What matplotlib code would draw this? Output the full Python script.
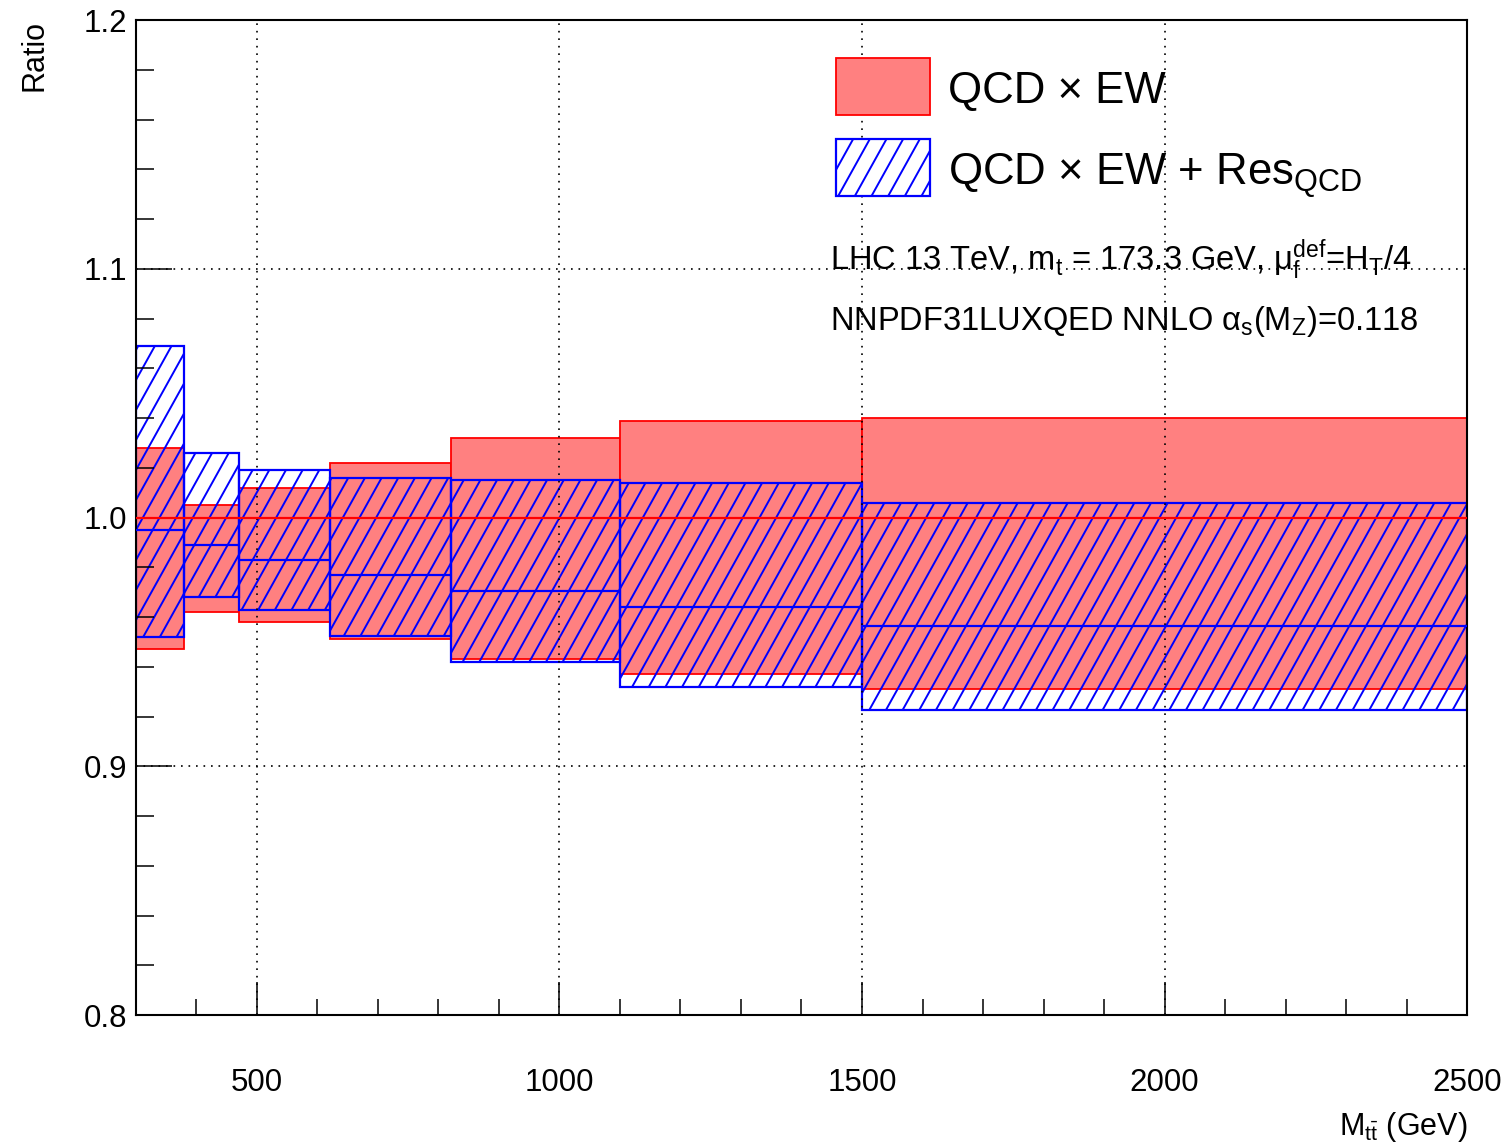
import matplotlib.pyplot as plt
import numpy as np
from matplotlib.patches import Rectangle
from matplotlib.collections import LineCollection
from matplotlib.transforms import IdentityTransform

plt.rcParams['font.family'] = ['Liberation Sans', 'DejaVu Sans']
plt.rcParams['mathtext.fontset'] = 'custom'
plt.rcParams['mathtext.rm'] = 'Liberation Sans'
plt.rcParams['mathtext.it'] = 'Liberation Sans:italic'
plt.rcParams['mathtext.bf'] = 'Liberation Sans:bold'

# bin edges in M_tt (GeV)
edges = [300, 380, 470, 620, 820, 1100, 1500, 2500]

# QCD x EW band (ratio)
qcdew_lo = [0.947, 0.962, 0.958, 0.951, 0.943, 0.937, 0.931]
qcdew_hi = [1.028, 1.005, 1.012, 1.022, 1.032, 1.039, 1.040]
qcdew_cen = [1.0, 1.0, 1.0, 1.0, 1.0, 1.0, 1.0]

# QCD x EW + Res_QCD band (ratio)
res_lo = [0.952, 0.968, 0.963, 0.9525, 0.942, 0.932, 0.9225]
res_hi = [1.069, 1.026, 1.019, 1.016, 1.015, 1.014, 1.006]
res_cen = [0.995, 0.989, 0.983, 0.977, 0.9705, 0.964, 0.9565]

xticks = [500, 1000, 1500, 2000, 2500]
yticks = [0.8, 0.9, 1.0, 1.1, 1.2]

RED_FILL = '#ff8080'

fig = plt.figure(figsize=(15.07, 11.46), dpi=100)
ax = fig.add_axes([0.0902, 0.1143, 0.8833, 0.8682])
ax.set_xlim(300, 2500)
ax.set_ylim(0.8, 1.2)

x0, y0, x1, y1 = ax.bbox.extents


def hatch(patch, z=1.5):
    # steep "/" hatching like ROOT's 3004 style, drawn in pixels and clipped to the patch
    step = 100 / 6
    rise = (y1 - y0) + 60
    run = rise / 1.8
    xs = np.arange(x0 - run - step, x1 + step, step)
    segs = [[(x, y0 - 30), (x + run, y0 - 30 + rise)] for x in xs]
    lc = LineCollection(segs, colors='#0000ff', linewidths=1.4,
                        transform=IdentityTransform(), zorder=z)
    ax.add_collection(lc, autolim=False)
    lc.set_clip_path(patch)


edges = np.array(edges)
widths = np.diff(edges)
lo1, hi1 = np.array(qcdew_lo), np.array(qcdew_hi)
lo2, hi2 = np.array(res_lo), np.array(res_hi)

ax.bar(edges[:-1], hi1 - lo1, width=widths, bottom=lo1, align='edge',
       color=RED_FILL, edgecolor='red', linewidth=1.3, zorder=1)
blue = ax.bar(edges[:-1], hi2 - lo2, width=widths, bottom=lo2, align='edge',
              facecolor='none', edgecolor='#0000ff', linewidth=1.6, zorder=1.6)
for p in blue.patches:
    hatch(p)

ax.hlines(qcdew_cen, edges[:-1], edges[1:], colors='red', linewidth=1.6, zorder=3)
ax.hlines(res_cen, edges[:-1], edges[1:], colors='#0000ff', linewidth=1.6, zorder=3)

# axes styling
ax.set_xticks(xticks)
ax.set_xticklabels([str(t) for t in xticks])
ax.set_xticks(np.arange(300, 2501, 100), minor=True)
ax.set_yticks(yticks)
ax.set_yticklabels(['%.1f' % t for t in yticks])
ax.set_yticks(np.arange(0.8, 1.2001, 0.02), minor=True)
ax.tick_params(which='both', direction='in', top=False, right=False, width=1.1, color='black')
ax.tick_params(axis='x', which='major', length=24, pad=38, labelsize=22.5)
ax.tick_params(axis='x', which='minor', length=11.5)
ax.tick_params(axis='y', which='major', length=26, pad=6, labelsize=22.5)
ax.tick_params(axis='y', which='minor', length=13)
for s in ax.spines.values():
    s.set_linewidth(1.5)
ax.grid(which='major', color='black', linestyle=(0, (1, 3.5)), linewidth=1.2)
ax.set_axisbelow(False)

fig.text(0.0232, 0.9825, 'Ratio', rotation=90, ha='center', va='top', fontsize=22)
fig.text(0.9735, 0.0096, r'M$_{\rm t\bar{t}}$ (GeV)', ha='right', va='baseline', fontsize=22)

# legend drawn by hand (ROOT style, no frame)
leg_red = Rectangle((0.526, 0.9045), 0.0705, 0.0573, transform=ax.transAxes,
                    facecolor=RED_FILL, edgecolor='red', linewidth=1.3, zorder=4)
leg_blue = Rectangle((0.526, 0.823), 0.0705, 0.0574, transform=ax.transAxes,
                     facecolor='white', edgecolor='#0000ff', linewidth=1.6, zorder=4)
ax.add_patch(leg_red)
ax.add_patch(leg_blue)
hatch(leg_blue, z=4.5)

ax.text(0.610, 0.9166, 'QCD × EW', transform=ax.transAxes, fontsize=31.5, va='baseline', zorder=5)
ax.text(0.610, 0.834, r'QCD × EW + Res$_{\rm QCD}$', transform=ax.transAxes, fontsize=31.5,
        va='baseline', zorder=5)
ax.text(0.5214, 0.7487, r'LHC 13 TeV, m$_{\rm t}$ = 173.3 GeV, μ$_{\rm f}^{\rm def}$=H$_{\rm T}$/4',
        transform=ax.transAxes, fontsize=23.5, va='baseline', zorder=5)
ax.text(0.5214, 0.6884, r'NNPDF31LUXQED NNLO α$_{\rm s}$(M$_{\rm Z}$)=0.118',
        transform=ax.transAxes, fontsize=23.5, va='baseline', zorder=5)

fig.savefig('out.png', dpi=100)
